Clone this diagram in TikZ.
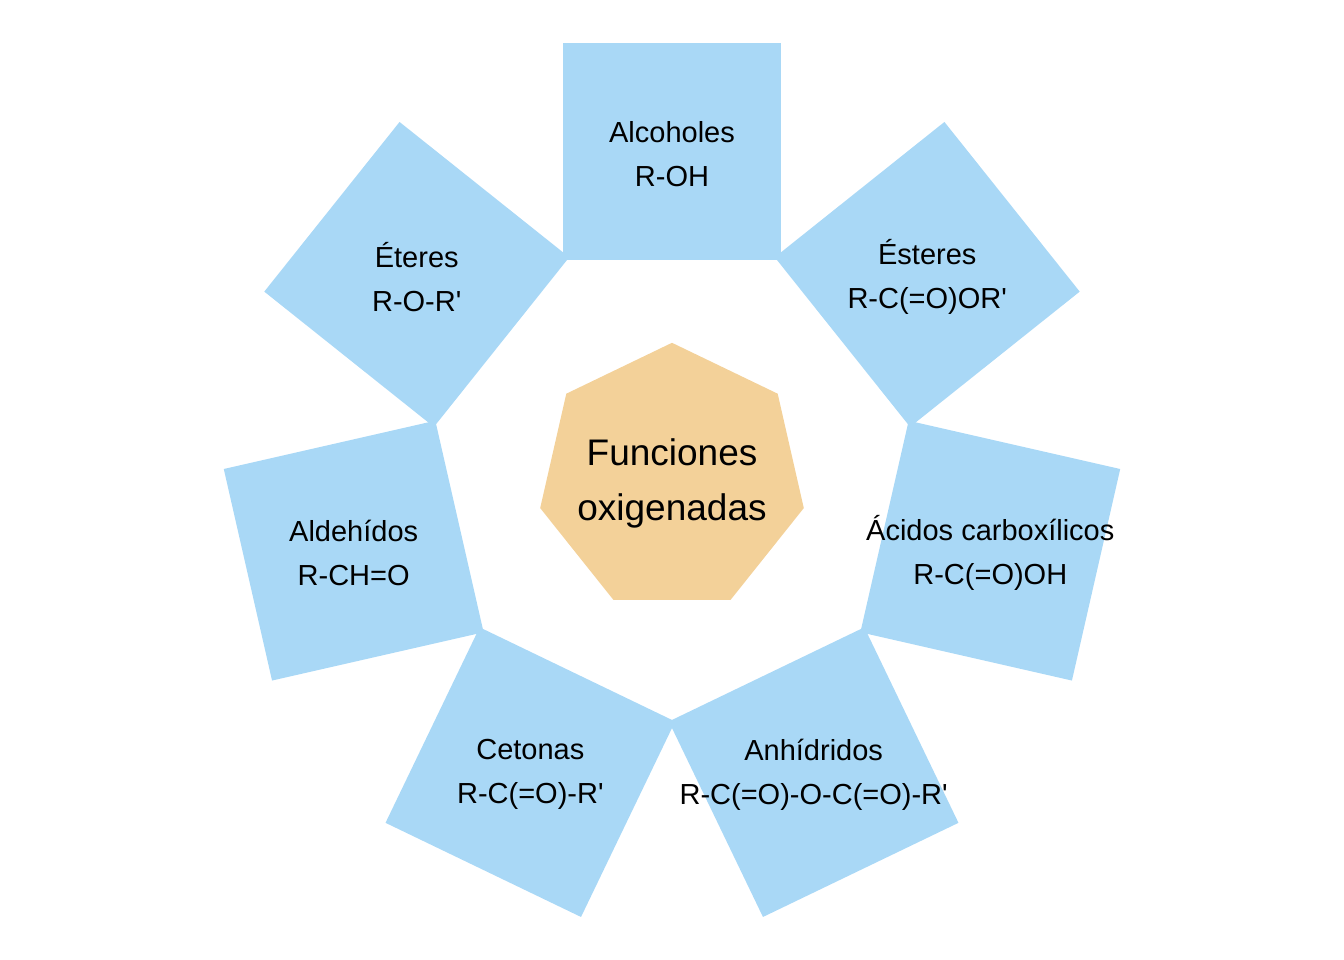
\documentclass[tikz,border=0pt]{standalone}
\usepackage{fontspec}
\setmainfont{Liberation Sans}[Ligatures=TeXOff]
\usetikzlibrary{shapes.geometric}
\definecolor{sqblue}{RGB}{169,216,246}
\definecolor{heporange}{RGB}{243,209,153}
\begin{document}
\begin{tikzpicture}[x=1pt,y=1pt,
  sqbox/.style={rectangle, fill=sqblue, draw=none, minimum size=217pt, inner sep=0pt, outer sep=0pt},
  lbl/.style={align=center, font=\fontsize{29}{44}\selectfont, inner sep=0pt},
  hept/.style={regular polygon, regular polygon sides=7, fill=heporange, draw=none, minimum size=270.4pt, inner sep=0pt, outer sep=0pt},
  ctext/.style={align=center, font=\fontsize{37}{55}\selectfont, inner sep=0pt}]
\useasboundingbox (-672,-482) rectangle (672,478);
\node[hept] (hub) at (0,0) {};
\node[ctext] (hubt) at (0,-5) {Funciones\\oxigenadas};
\foreach \i/\txt in {0/{Alcoholes\\R-OH},
                     1/{Éteres\\R-O-R'},
                     2/{Aldehídos\\R-CH=O},
                     3/{Cetonas\\R-C(=O)-R'},
                     4/{Anhídridos\\R-C(=O)-O-C(=O)-R'},
                     5/{Ácidos carboxílicos\\R-C(=O)OH},
                     6/{Ésteres\\R-C(=O)OR'}}{
  \pgfmathsetmacro{\ang}{90+\i*360/7}
  \node[sqbox, rotate=\ang-90] (s\i) at (\ang:326.5) {};
  \node[lbl] (t\i) at ([yshift=-2.5pt]s\i.center) {\txt};
}
\end{tikzpicture}
\end{document}
